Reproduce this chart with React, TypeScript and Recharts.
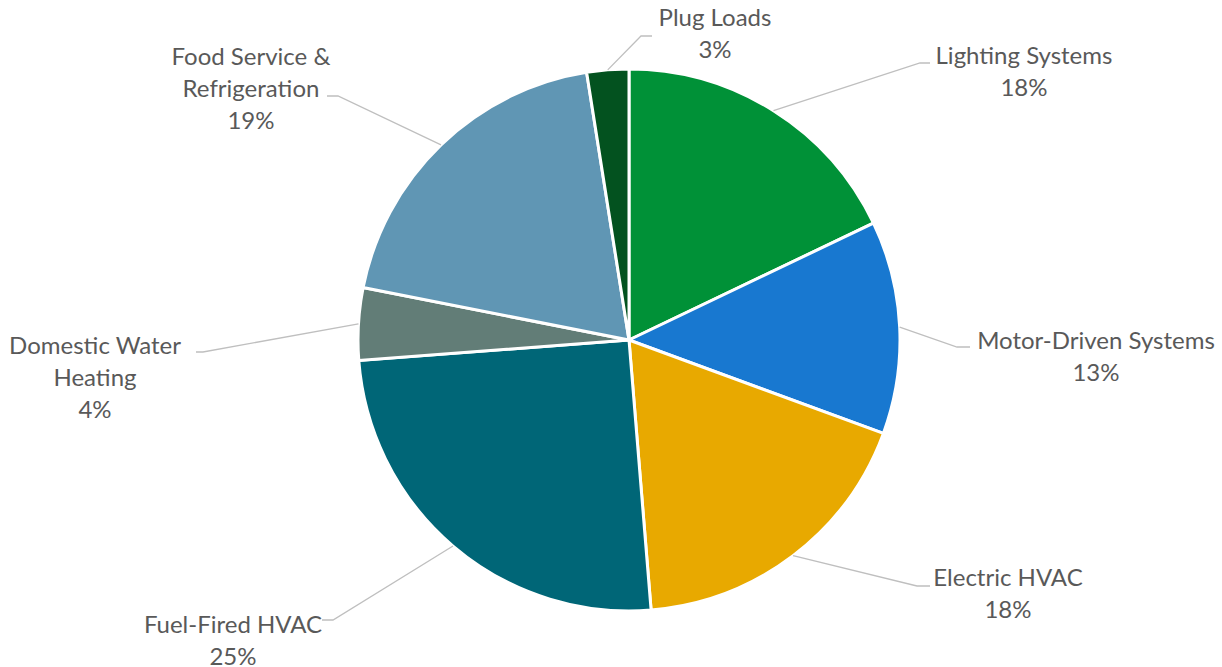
import React from "react";
import { PieChart, Pie, Cell } from "recharts";

const categories = [
  "Lighting Systems",
  "Motor-Driven Systems",
  "Electric HVAC",
  "Fuel-Fired HVAC",
  "Domestic Water Heating",
  "Food Service & Refrigeration",
  "Plug Loads",
];
const shares = [17.9, 12.7, 18.1, 25.1, 4.3, 19.4, 2.5];
const labelLines = [
  ["Lighting Systems"],
  ["Motor-Driven Systems"],
  ["Electric HVAC"],
  ["Fuel-Fired HVAC"],
  ["Domestic Water", "Heating"],
  ["Food Service &", "Refrigeration"],
  ["Plug Loads"],
];
const colors = ["#009137", "#1878D0", "#E8A900", "#006677", "#627D77", "#6096B4", "#03521F"];

// label placement (Excel "best fit" positions): elbow, line end, text center x, first line y
const labelLayout = [
  { elbow: [920, 63], end: [930, 63], tx: 1024, ty: 54 },
  { elbow: [957, 347], end: [970, 347], tx: 1096, ty: 339 },
  { elbow: [917, 586], end: [930, 586], tx: 1008, ty: 576 },
  { elbow: [333, 620], end: [322, 620], tx: 233, ty: 623 },
  { elbow: [203, 352], end: [196, 352], tx: 95, ty: 344 },
  { elbow: [338, 96], end: [327, 96], tx: 251, ty: 55 },
  { elbow: [641, 36], end: [652, 36], tx: 715, ty: 16 },
];

const data = categories.map((name, i) => ({ name, value: shares[i] }));
const RAD = Math.PI / 180;
const LINE_H = 32;

function renderLabel(props: any) {
  const { cx, cy, midAngle, outerRadius, index, percent } = props;
  const lay = labelLayout[index];
  const sx = cx + outerRadius * Math.cos(-midAngle * RAD);
  const sy = cy + outerRadius * Math.sin(-midAngle * RAD);
  const lines = [...labelLines[index], `${Math.round(percent * 100)}%`];
  return (
    <g key={`lbl-${index}`}>
      <polyline
        points={`${sx},${sy} ${lay.elbow[0]},${lay.elbow[1]} ${lay.end[0]},${lay.end[1]}`}
        fill="none"
        stroke="#BFBFBF"
        strokeWidth={1.3}
      />
      <text
        x={lay.tx}
        y={lay.ty}
        textAnchor="middle"
        fill="#595959"
        fontSize={24}
        fontFamily="Lato, 'Noto Sans', sans-serif"
      >
        {lines.map((t, j) => (
          <tspan key={j} x={lay.tx} y={lay.ty + j * LINE_H} dominantBaseline="central">
            {t}
          </tspan>
        ))}
      </text>
    </g>
  );
}

export default function App() {
  return (
    <div style={{ position: "absolute", left: 0, top: 0, background: "#fff" }}>
      <PieChart width={1222} height={667} margin={{ top: 0, right: 0, bottom: 0, left: 0 }}>
        <Pie
          data={data}
          dataKey="value"
          nameKey="name"
          cx={629}
          cy={340}
          outerRadius={271}
          startAngle={90}
          endAngle={-270}
          stroke="#FFFFFF"
          strokeWidth={3}
          labelLine={false}
          label={renderLabel}
          isAnimationActive={false}
        >
          {data.map((d, i) => (
            <Cell key={d.name} fill={colors[i]} />
          ))}
        </Pie>
      </PieChart>
    </div>
  );
}
